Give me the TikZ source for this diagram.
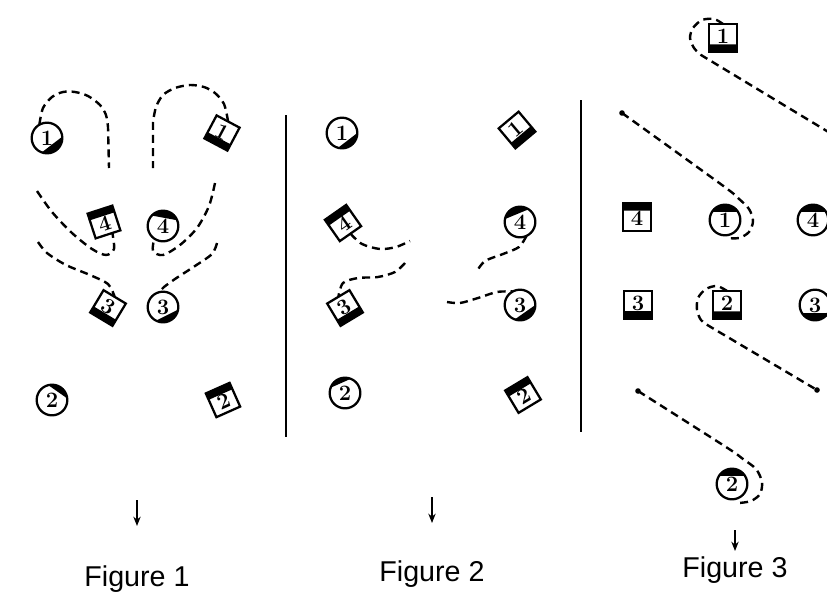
\documentclass[tikz,border=0pt]{standalone}
\usepackage{fontspec}
\newfontfamily\labfont{Liberation Sans}
\usetikzlibrary{calc,arrows.meta}
\tikzset{
  dancer/.style={draw, line width=1.7pt, inner sep=0pt, outer sep=0pt, font=\fontsize{16.5}{17}\selectfont\bfseries},
  cd/.style={dancer, circle, minimum size=23pt},
  sqd/.style={dancer, rectangle, minimum size=19.5pt},
  sqbig/.style={dancer, rectangle, minimum size=21pt},
  trail/.style={line width=1.8pt, dash pattern=on 6pt off 3.8pt},
  divider/.style={line width=1.5pt},
  trailend/.style={circle, fill, inner sep=0pt, minimum size=4.2pt},
  figlab/.style={font=\labfont\fontsize{21.5}{25}\selectfont, anchor=base, inner sep=0pt},
  downarrow/.style={line width=1.1pt, -{Stealth[length=7pt,width=5.5pt]}}
}
\def\bandliftsouth{1.2pt}
\def\bandliftnorth{-1.2pt}
\newcommand{\CirD}[5]{%
  \node[cd] (#1) at (#2) {#3};
  \fill (#1.#4) arc[start angle=#4, end angle=#5, radius=11.5pt] -- cycle;}
\newcommand{\SqD}[7]{%
  \node[#1, rotate=#4] (#2) at (#3) {\raisebox{\dimexpr-0.5\height+\csname bandlift#6\endcsname\relax}[0pt][0pt]{#5}};
  \fill (#2.#6 west) -- (#2.#6 east) -- ($(#2.#6 east)!0.27!(#2.#7 east)$) -- ($(#2.#6 west)!0.27!(#2.#7 west)$) -- cycle;}
\begin{document}
\begin{tikzpicture}[x=0.75pt,y=0.75pt]
\useasboundingbox (0,0) rectangle (827,-600);
\clip (0,0) rectangle (827,-600);
\fill[white] (0,0) rectangle (827,-600);

% ---------- Figure 1 ----------
\CirD{C1a}{47,-138}{1}{5}{-110}
\SqD{sqd}{S1a}{222,-133}{-28}{1}{south}{north}
\SqD{sqd}{S4a}{104,-222}{18}{4}{north}{south}
\CirD{C4a}{163,-226}{4}{22}{137}
\SqD{sqd}{S3a}{108,-308}{-31}{3}{south}{north}
\CirD{C3a}{163,-307}{3}{-10}{-117}
\CirD{C2a}{52,-400}{2}{6}{104}
\SqD{sqd}{S2a}{223,-400}{24}{2}{north}{south}

\coordinate (A1end) at (109,-168);
\coordinate (B1end) at (153,-168);
\coordinate (C1start) at (37,-191);
\coordinate (D1start) at (215,-183);
\coordinate (E1start) at (38,-242);
\coordinate (F1start) at (217,-243);

\draw[trail] plot[smooth] coordinates {(C1a.120) (43,-108) (52,-97) (63,-92) (75,-92) (88,-96) (100,-105) (106,-115) (108,-127)} -- (A1end);
\draw[trail] plot[smooth] coordinates {(S1a.north) (224,-104) (215,-93) (204,-87) (190,-85) (175,-88) (163,-95) (156,-107) (153,-122)} -- (B1end);
\draw[trail] plot[smooth] coordinates {(C1start) (52,-212) (72,-233) (92,-249) (106,-255) (114,-249) ($(S4a.south)!0.35!(S4a.south east)$)};
\draw[trail] plot[smooth] coordinates {(D1start) (209,-206) (197,-228) (180,-245) (163,-255) (153,-251) (C4a.-125)};
\draw[trail] plot[smooth] coordinates {(E1start) (47,-253) (66,-265) (90,-275) (108,-284) (S3a.north)};
\draw[trail] plot[smooth] coordinates {(F1start) (212,-254) (195,-266) (175,-279) (164,-287) (C3a.105)};

% ---------- dividers ----------
\coordinate (L1top) at (286,-115);
\coordinate (L1bot) at (286,-437);
\coordinate (L2top) at (581,-100);
\coordinate (L2bot) at (581,-432);
\draw[divider] (L1top) -- (L1bot);
\draw[divider] (L2top) -- (L2bot);

% ---------- Figure 2 ----------
\CirD{C1b}{342,-133}{1}{0}{-105}
\SqD{sqd}{S1b}{517,-130}{40}{1}{south}{north}
\SqD{sqd}{S4b}{343,-223}{35}{4}{north}{south}
\CirD{C4b}{520,-222}{4}{56}{169}
\SqD{sqd}{S3b}{345,-308}{31}{3}{south}{north}
\CirD{C3b}{520,-305}{3}{0}{-110}
\CirD{C2b}{345,-393}{2}{68}{160}
\SqD{sqd}{S2b}{523,-395}{31}{2}{north}{south}

\coordinate (P1end) at (410,-241);
\coordinate (P2start) at (405,-263);
\coordinate (P3end) at (477,-271);
\coordinate (P4start) at (447,-302);
\draw[trail] plot[smooth] coordinates {(S4b.south) (362,-244) (380,-249) (396,-247) (P1end)};
\draw[trail] plot[smooth] coordinates {(P2start) (395,-272) (378,-277) (358,-278) (343,-283) (S3b.north)};
\draw[trail] plot[smooth] coordinates {(C4b.-65) (519,-247) (503,-254) (485,-261) (P3end)};
\draw[trail] plot[smooth] coordinates {(P4start) (460,-303) (478,-298) (497,-292) (C3b.118)};

% ---------- Figure 3 ----------
\SqD{sqbig}{S1c}{723,-38}{0}{1}{south}{north}
\SqD{sqbig}{S4c}{637,-217}{0}{4}{north}{south}
\CirD{C1c}{725,-220}{1}{32}{148}
\CirD{C4c}{813,-220}{4}{32}{148}
\SqD{sqbig}{S3c}{638,-305}{0}{3}{south}{north}
\SqD{sqbig}{S2c}{727,-305}{0}{2}{south}{north}
\CirD{C3c}{815,-305}{3}{-32}{-148}
\CirD{C2c}{732,-484}{2}{32}{148}

\coordinate (Q1end) at (840,-139);
\node[trailend] (D2) at (622,-113) {};
\node[trailend] (D3) at (817,-390) {};
\node[trailend] (D4) at (638,-391) {};
\coordinate (Q2end) at (727,-238);
\coordinate (Q4end) at (739,-503);
\draw[trail] plot[smooth] coordinates {(S1c.north) (714,-19) (702,-20) (693,-28) (690,-38) (694,-48) (701,-55)} -- (Q1end);
\draw[trail] plot[smooth] coordinates {(D2) (722,-185) (738,-198) (749,-209) (753,-221) (749,-232) (739,-238) (Q2end)};
\draw[trail] plot[smooth] coordinates {(S2c.north) (717,-286) (706,-289) (698,-298) (697,-310) (701,-320) (709,-326)} -- (D3);
\draw[trail] plot[smooth] coordinates {(D4) (726,-447) (743,-459) (756,-469) (762,-482) (760,-494) (751,-501) (Q4end)};

% ---------- arrows and captions ----------
\coordinate (Ar1s) at (137,-500);
\coordinate (Ar1e) at (137,-526);
\coordinate (Ar2s) at (432,-497);
\coordinate (Ar2e) at (432,-523);
\coordinate (Ar3s) at (735,-530);
\coordinate (Ar3e) at (735,-551);
\draw[downarrow] (Ar1s) -- (Ar1e);
\draw[downarrow] (Ar2s) -- (Ar2e);
\draw[downarrow] (Ar3s) -- (Ar3e);
\node[figlab] (F1) at (137,-586) {Figure 1};
\node[figlab] (F2) at (432,-581) {Figure 2};
\node[figlab] (F3) at (735,-577) {Figure 3};
\end{tikzpicture}
\end{document}
